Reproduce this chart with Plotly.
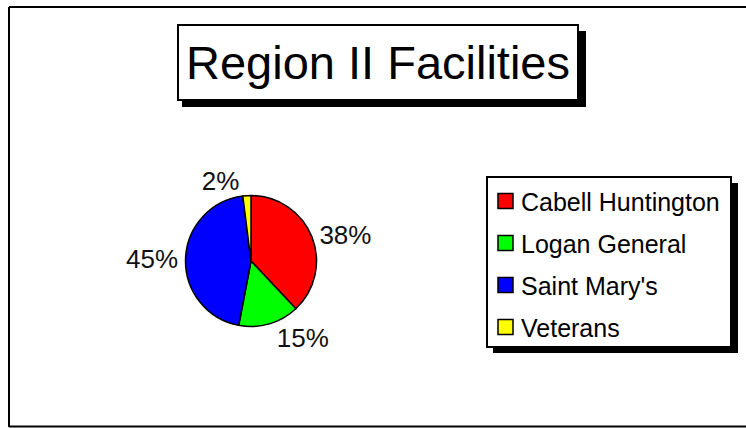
import plotly.graph_objects as go

# ---- data ----
facilities = ["Cabell Huntington", "Logan General", "Saint Mary's", "Veterans"]
shares = [38, 15, 45, 2]
slice_colors = ["#ff0000", "#00ff00", "#0000ff", "#ffff00"]
title_text = "Region II Facilities"

W, H = 746, 428


def pxx(v):
    return v / W


def pxy(v):
    return 1 - v / H


FONT = "Liberation Sans, Arial, sans-serif"

fig = go.Figure()
fig.add_trace(go.Pie(
    labels=facilities,
    values=shares,
    sort=False,
    direction="clockwise",
    rotation=0,
    marker=dict(colors=slice_colors, line=dict(color="black", width=1.5)),
    textinfo="percent",
    textposition="outside",
    outsidetextfont=dict(family=FONT, size=26, color="#111"),
    domain=dict(x=[pxx(185.5), pxx(316.5)], y=[pxy(326.5), pxy(195.5)]),
    hoverinfo="label+percent",
    showlegend=False,
))

frame = dict(color="black", width=2)
shapes = [
    # outer frame: left, top, bottom (right side lies outside the window)
    dict(type="line", xref="paper", yref="paper",
         x0=pxx(9), x1=pxx(9), y0=pxy(427), y1=pxy(7), line=frame, layer="below"),
    dict(type="line", xref="paper", yref="paper",
         x0=pxx(9), x1=pxx(760), y0=pxy(7), y1=pxy(7), line=frame, layer="below"),
    dict(type="line", xref="paper", yref="paper",
         x0=pxx(9), x1=pxx(760), y0=pxy(426.5), y1=pxy(426.5), line=frame, layer="below"),
    # title shadow
    dict(type="rect", xref="paper", yref="paper",
         x0=pxx(182), x1=pxx(586), y0=pxy(107), y1=pxy(31),
         line=dict(width=0), fillcolor="black", layer="above"),
    # legend shadow
    dict(type="rect", xref="paper", yref="paper",
         x0=pxx(493), x1=pxx(738), y0=pxy(353), y1=pxy(183),
         line=dict(width=0), fillcolor="black", layer="above"),
    # legend box
    dict(type="rect", xref="paper", yref="paper",
         x0=pxx(487), x1=pxx(731), y0=pxy(347), y1=pxy(177),
         line=dict(color="black", width=2), fillcolor="white", layer="above"),
]

annotations = [
    dict(text=title_text, xref="paper", yref="paper",
         x=pxx(378), y=pxy(62.5), xanchor="center", yanchor="middle",
         showarrow=False, font=dict(family=FONT, size=47, color="black"),
         bgcolor="white", bordercolor="black", borderwidth=2, borderpad=0,
         width=398, height=73, align="center", valign="middle"),
]

# legend entries built from the data lists
ROW0, ROWSTEP = 201, 42
for i, (name, col) in enumerate(zip(facilities, slice_colors)):
    yc = ROW0 + ROWSTEP * i
    shapes.append(dict(type="rect", xref="paper", yref="paper",
                       x0=pxx(498), x1=pxx(513), y0=pxy(yc + 7.5), y1=pxy(yc - 7.5),
                       line=dict(color="black", width=1.5), fillcolor=col, layer="above"))
    annotations.append(dict(text=name, xref="paper", yref="paper",
                            x=pxx(519), y=pxy(yc + 1), xanchor="left", yanchor="middle",
                            showarrow=False, font=dict(family=FONT, size=25, color="black")))

fig.update_layout(
    width=W, height=H,
    margin=dict(l=0, r=0, t=0, b=0),
    paper_bgcolor="white",
    plot_bgcolor="white",
    font=dict(family=FONT, color="black"),
    shapes=shapes,
    showlegend=False,
    annotations=annotations,
)

fig.write_html("out.html",
               config={"displayModeBar": False},
               post_script="document.body.style.margin='0';document.body.style.overflow='hidden';")
